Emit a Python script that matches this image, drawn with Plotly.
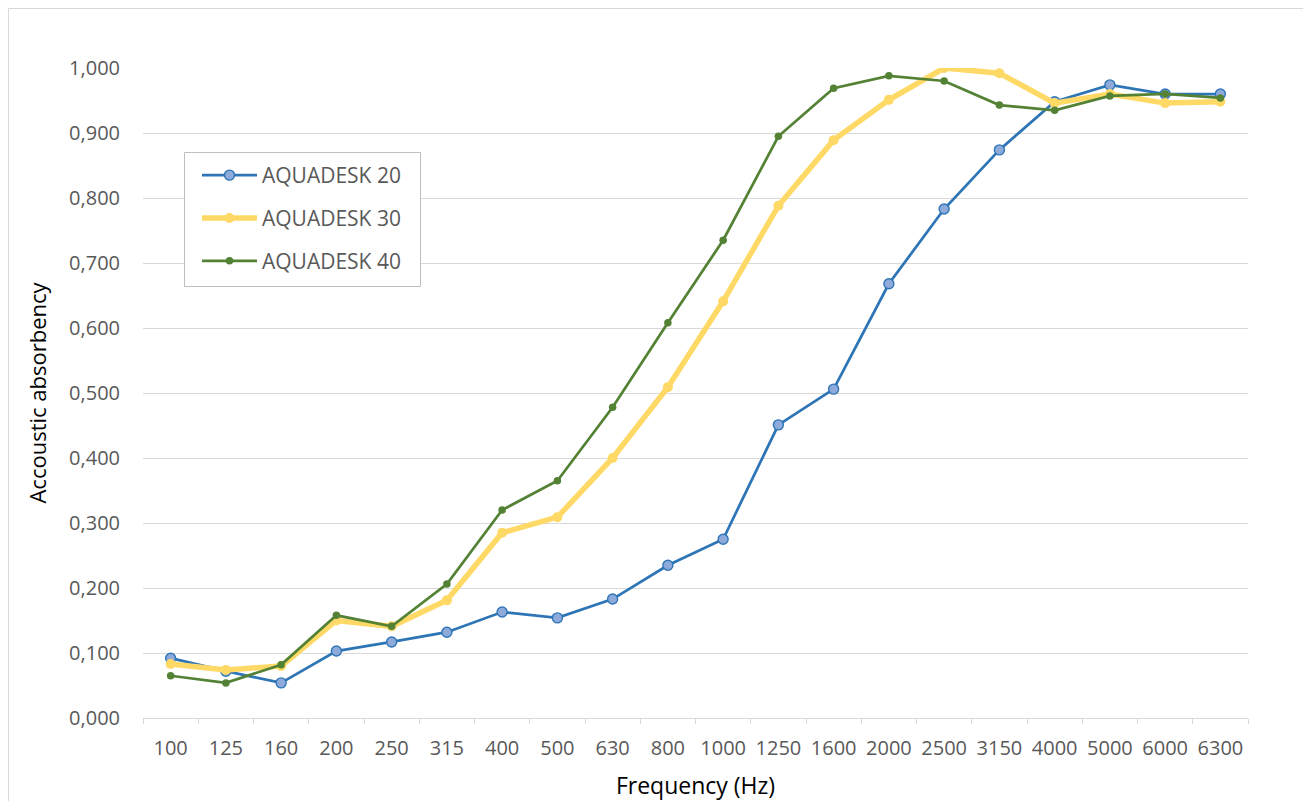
import plotly.graph_objects as go

freqs = ["100", "125", "160", "200", "250", "315", "400", "500", "630", "800",
         "1000", "1250", "1600", "2000", "2500", "3150", "4000", "5000", "6000", "6300"]

aquadesk_20 = [0.092, 0.072, 0.054, 0.103, 0.117, 0.132, 0.163, 0.154, 0.183, 0.235,
               0.275, 0.451, 0.506, 0.668, 0.783, 0.874, 0.948, 0.974, 0.960, 0.960]
aquadesk_30 = [0.083, 0.074, 0.080, 0.150, 0.141, 0.181, 0.285, 0.309, 0.400, 0.509,
               0.641, 0.788, 0.889, 0.951, 1.000, 0.992, 0.946, 0.960, 0.946, 0.948]
aquadesk_40 = [0.065, 0.054, 0.082, 0.158, 0.141, 0.206, 0.320, 0.365, 0.478, 0.608,
               0.735, 0.895, 0.969, 0.988, 0.980, 0.943, 0.935, 0.957, 0.960, 0.954]

y_ticks = [0.0, 0.1, 0.2, 0.3, 0.4, 0.5, 0.6, 0.7, 0.8, 0.9, 1.0]
y_tick_labels = ["0,000", "0,100", "0,200", "0,300", "0,400", "0,500",
                 "0,600", "0,700", "0,800", "0,900", "1,000"]

fig = go.Figure()
fig.add_trace(go.Scatter(
    x=freqs, y=aquadesk_20, name="AQUADESK 20", mode="lines+markers",
    line=dict(color="#2e75b6", width=2.75),
    marker=dict(symbol="circle", size=10, color="#8eaadb",
                line=dict(color="#2e75b6", width=1.4)),
    legendgroup="a"))
fig.add_trace(go.Scatter(
    x=freqs, y=aquadesk_30, name="AQUADESK 30", mode="lines+markers",
    line=dict(color="#ffd966", width=5.5),
    marker=dict(symbol="circle", size=10, color="#ffd966"),
    legendgroup="b"))
fig.add_trace(go.Scatter(
    x=freqs, y=aquadesk_40, name="AQUADESK 40", mode="lines+markers",
    line=dict(color="#548235", width=2.75),
    marker=dict(symbol="circle", size=7.5, color="#548235"),
    legendgroup="c"))

# page is offset by the 8px body margin
L, R, T, B = 135, 63, 60, 83
W, H = 1303, 793
pw = W - L - R
ph = H - T - B


def px_x(fx):
    return (fx - L) / pw


def px_y(fy):
    return (H - B - fy) / ph


fig.update_layout(
    width=W, height=H,
    margin=dict(l=L, r=R, t=T, b=B, autoexpand=False),
    paper_bgcolor="white", plot_bgcolor="white",
    font=dict(family="Open Sans, sans-serif", color="#595959", size=19),
    showlegend=True,
    legend=dict(
        x=px_x(189), y=px_y(147), xanchor="left", yanchor="top",
        borderwidth=0, bgcolor="rgba(0,0,0,0)",
        font=dict(size=21, color="#595959"),
        traceorder="grouped", tracegroupgap=12.5, itemwidth=55,
    ),
    xaxis=dict(
        type="category", range=[-0.5, len(freqs) - 0.5],
        automargin=False,
        showgrid=False, showline=True, linecolor="#d9d9d9", linewidth=1,
        ticks="outside", tickson="boundaries", ticklen=5, tickcolor="#d9d9d9",
        ticklabelstandoff=12,
        tickfont=dict(size=20, color="#595959"),
        title=dict(text="Frequency (Hz)", font=dict(size=23, color="#000000"), standoff=24),
        zeroline=False,
    ),
    yaxis=dict(
        range=[0, 1.0], tickvals=y_ticks, ticktext=y_tick_labels,
        automargin=False,
        showgrid=True, gridcolor="#d9d9d9", gridwidth=1,
        showline=False, zeroline=False,
        ticks="outside", ticklen=18, tickcolor="rgba(0,0,0,0)",
        tickfont=dict(size=20, color="#595959"),
        title=dict(text="Accoustic absorbency", font=dict(size=22, color="#000000"), standoff=16),
    ),
    shapes=[
        dict(
            type="rect", xref="paper", yref="paper",
            x0=px_x(0.5), x1=px_x(1299),
            y0=px_y(820), y1=px_y(0.5),
            line=dict(color="#d9d9d9", width=1), fillcolor="rgba(0,0,0,0)", layer="below",
        ),
        dict(
            type="rect", xref="paper", yref="paper",
            x0=px_x(176.5), x1=px_x(412.5),
            y0=px_y(278.5), y1=px_y(144.5),
            line=dict(color="#bfbfbf", width=1), fillcolor="white", layer="above",
        ),
    ],
)

fig.write_html("out.html")
